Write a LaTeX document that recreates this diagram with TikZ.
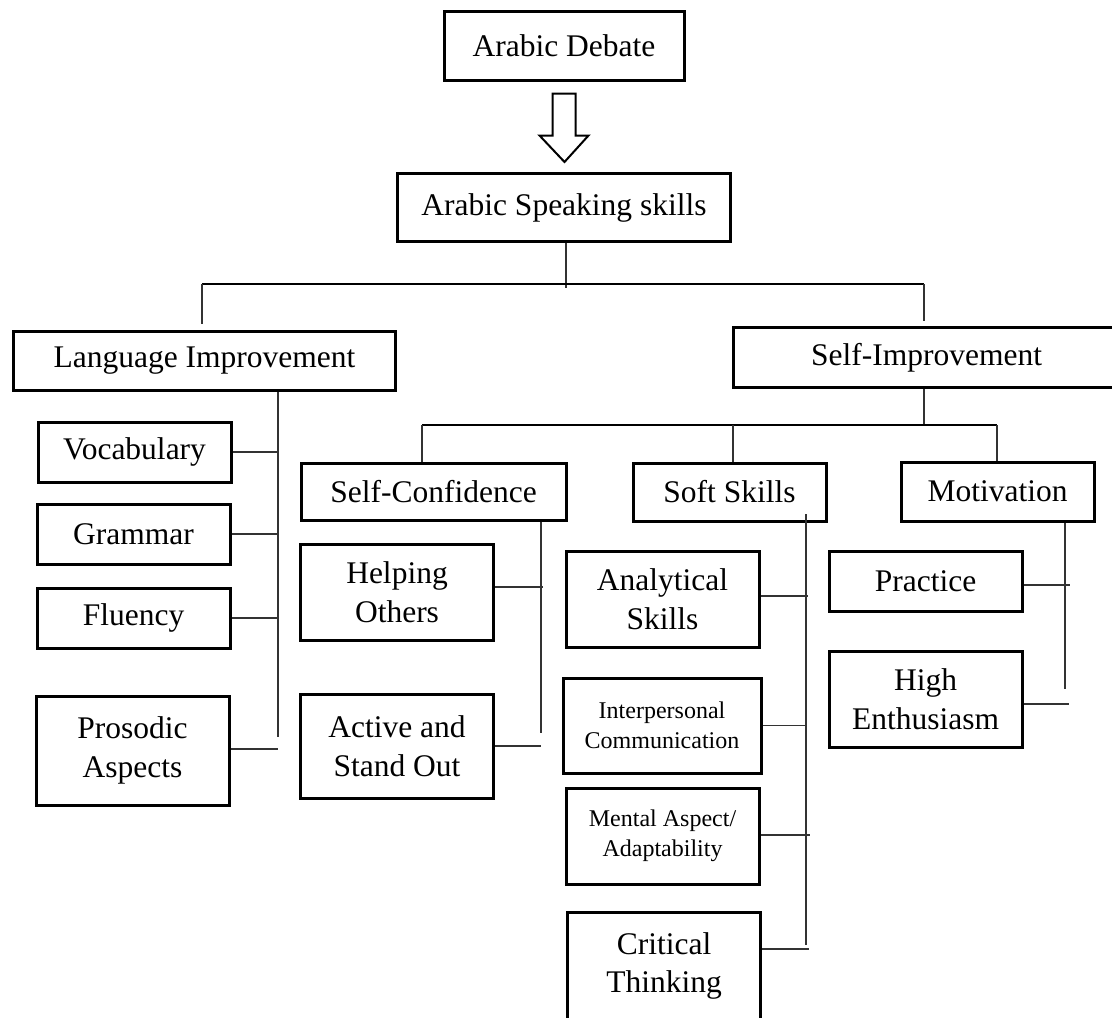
\documentclass[tikz,border=0pt]{standalone}
\usepackage{fontspec}
\setmainfont{Liberation Serif}
\usepackage{tikz}
\usetikzlibrary{calc}

\begin{document}
\begin{tikzpicture}[
  x=0.5pt, y=-0.5pt,
  box/.style={draw, line width=1.5pt, inner sep=0pt, align=center, minimum width=96.5pt},
  small/.style={font=\fontsize{12}{15}\selectfont},
  link/.style={line width=0.8pt, draw=black!80},
  bus/.style={line width=1.3pt},
  hollow/.style={line width=1pt, line join=miter},
  font=\fontsize{15.75}{19.25}\selectfont
]
\useasboundingbox (0,0) rectangle (1112,1017);
\clip (0,0) rectangle (1112,1017);

\node[box, minimum width=120pt, minimum height=34.5pt] (debate) at (564,45.5) {Arabic Debate};
\node[box, minimum width=166.5pt, minimum height=34pt] (skills) at (564,207.5) {Arabic Speaking skills};

\node[box, minimum width=191pt, minimum height=29.5pt] (lang) at (204.5,360.5) {Language Improvement};
\node[box, minimum width=193.5pt, minimum height=30pt] (selfimp) at (926.5,357.5) {Self-Improvement};

\node[box, minimum height=30pt] (vocab) at (134.5,452) {Vocabulary};
\node[box, minimum height=30pt] (gram) at (133.5,534) {Grammar};
\node[box, minimum height=30pt] (fluen) at (133.5,618) {Fluency};
\node[box, minimum height=54.5pt] (pros) at (132.5,750.5) {Prosodic\\Aspects};

\node[box, minimum width=132.5pt, minimum height=28.5pt] (conf) at (433.5,491.5) {Self-Confidence};
\node[box, minimum height=48pt] (help) at (397,592) {Helping\\Others};
\node[box, minimum height=52pt] (active) at (397,746) {Active and\\Stand Out};

\node[box, minimum height=29pt] (soft) at (729.5,492) {Soft Skills};
\node[box, minimum height=48pt] (analyt) at (662.5,599) {Analytical\\Skills};
\node[box, small, minimum width=99pt, minimum height=47.5pt] (inter) at (662,725.5) {Interpersonal\\Communication};
\node[box, small, minimum height=48pt] (mental) at (662.5,836) {Mental Aspect/\\Adaptability};
\node[box, minimum height=54pt] (crit) at (664,966) {Critical\\Thinking};

\node[box, minimum height=29.5pt] (motiv) at (997.5,491.5) {Motivation};
\node[box, minimum height=30pt] (pract) at (925.5,581) {Practice};
\node[box, minimum height=48pt] (enthus) at (925.5,699) {High\\Enthusiasm};

\draw[hollow] ($(debate.south)+(-11.5,12)$) -- ++(23,0) -- ++(0,42) -- ++(13,0)
  -- ($(skills.north)+(0.5,-10)$) -- ($(debate.south)+(-24.5,54)$) -- ++(13,0) -- cycle;

\coordinate (trunk) at (566,288);
\coordinate (busL) at (202,284);
\coordinate (busR) at (924,284);
\draw[link] (trunk |- skills.south) -- (trunk);
\draw[bus] (busL) -- (busR);
\draw[link, shorten >=3pt] (busL) -- (busL |- lang.north);
\draw[link, shorten >=2.5pt] (busR) -- (busR |- selfimp.north);

\coordinate (langEnd) at (278,737);
\draw[link] (langEnd |- lang.south) -- (langEnd);
\draw[link] (vocab.east) -- (vocab.east -| langEnd);
\draw[link] (gram.east) -- (gram.east -| langEnd);
\draw[link] (fluen.east) -- (fluen.east -| langEnd);
\draw[link] ($(pros.east)+(0,-1.5)$) -- ++(47,0);

\coordinate (subL) at (422,425);
\coordinate (subR) at (997,425);
\draw[link] (busR |- selfimp.south) -- (busR |- subL);
\draw[bus, line width=1.1pt] (subL) -- (subR);
\draw[link] (subL) -- (subL |- conf.north);
\draw[link] (soft.north -| 733,0) -- (733,425);
\draw[link] (subR) -- (subR |- motiv.north);

\coordinate (confEnd) at (541,733);
\draw[link] (confEnd |- conf.south) -- (confEnd);
\draw[link] ($(help.east)+(0,-5)$) -- ++(48,0);
\draw[link] (active.east) -- ++(46,0);

\coordinate (softTop) at (806,514);
\coordinate (softEnd) at (806,945);
\draw[link] (softTop) -- (softEnd);
\draw[link] ($(analyt.east)+(0,-3)$) -- ++(47,0);
\draw[link] (inter.east) -- (inter.east -| softEnd);
\draw[link] ($(mental.east)+(0,-1)$) -- ++(49,0);
\draw[link] ($(crit.east)+(0,-17)$) -- ++(47,0);

\coordinate (motEnd) at (1065,689);
\draw[link] (motEnd |- motiv.south) -- (motEnd);
\draw[link] ($(pract.east)+(0,4)$) -- ++(46,0);
\draw[link] ($(enthus.east)+(0,5)$) -- ++(45,0);
\end{tikzpicture}
\end{document}
